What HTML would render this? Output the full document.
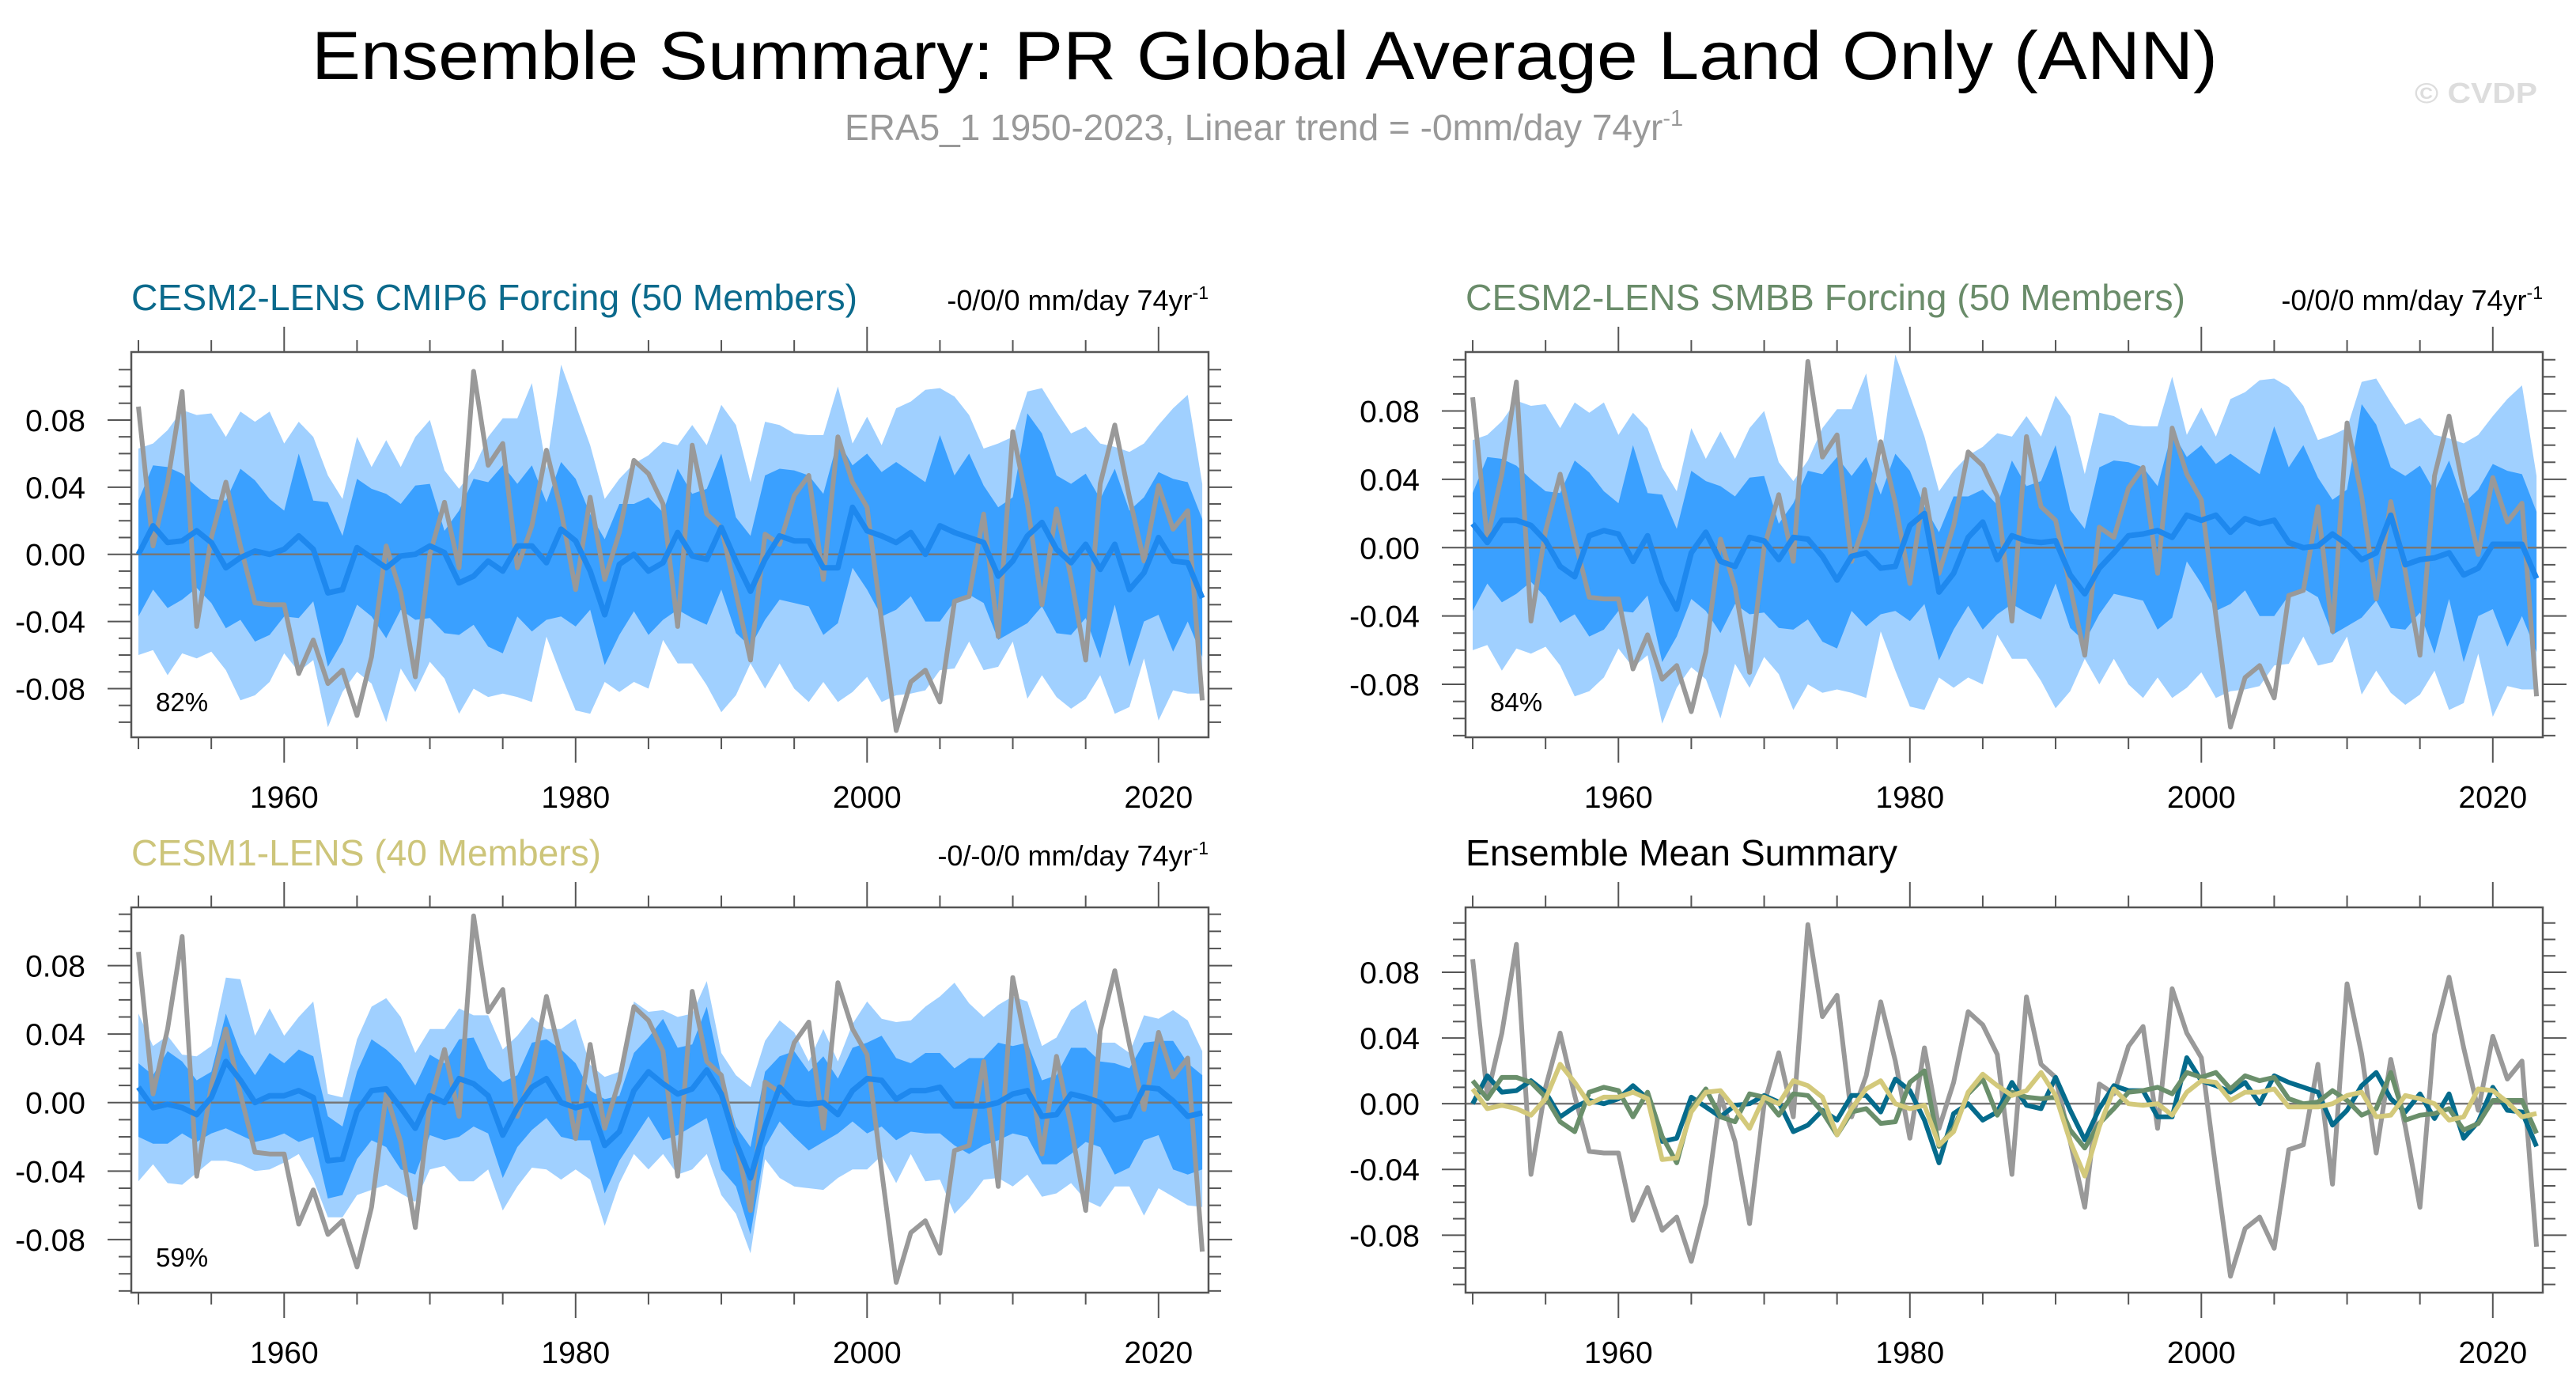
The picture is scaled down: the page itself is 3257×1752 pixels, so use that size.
<!DOCTYPE html>
<html><head><meta charset="utf-8">
<style>
html,body{margin:0;padding:0;background:#fff;}
svg{display:block;font-family:"Liberation Sans",Arial,sans-serif;}
</style></head>
<body>
<svg id="chart" width="3257" height="1752" viewBox="0 0 3257 1752" xmlns="http://www.w3.org/2000/svg">
<text x="1599" y="100" font-size="86" text-anchor="middle" textLength="2410" lengthAdjust="spacingAndGlyphs" fill="#000">Ensemble Summary: PR Global Average Land Only (ANN)</text>
<text x="1068" y="177" font-size="46" fill="#999">ERA5_1 1950-2023, Linear trend = -0mm/day 74yr<tspan dy="-18" font-size="29">-1</tspan></text>
<text x="3053" y="130" font-size="36" font-weight="bold" fill="#ddd" textLength="155" lengthAdjust="spacingAndGlyphs">© CVDP</text>
<g id="panels"></g>
</svg>
<script>
const years = Array.from({length:74},(_, i)=>1950+i);
const xTickLabels = [1960,1980,2000,2020];
const yTickLabels = [-0.08,-0.04,0.00,0.04,0.08];

const obs = [0.088,0.005,0.043,0.097,-0.043,0.010,0.043,0.005,-0.029,-0.030,-0.030,-0.071,-0.051,-0.077,-0.069,-0.096,-0.061,0.005,-0.023,-0.073,0.000,0.031,-0.008,0.109,0.053,0.066,-0.008,0.017,0.062,0.026,-0.021,0.034,-0.015,0.013,0.056,0.048,0.030,-0.043,0.065,0.024,0.016,-0.023,-0.063,0.012,0.006,0.035,0.047,-0.015,0.070,0.043,0.028,-0.040,-0.105,-0.076,-0.069,-0.088,-0.028,-0.025,0.024,-0.049,0.073,0.030,-0.030,0.027,-0.014,-0.063,0.042,0.077,0.034,-0.004,0.041,0.015,0.026,-0.087];

const meanCmip6 = [0.000,0.017,0.007,0.008,0.014,0.007,-0.008,-0.002,0.002,0.000,0.003,0.011,0.003,-0.023,-0.021,0.004,-0.002,-0.008,-0.001,0.000,0.005,0.001,-0.017,-0.013,-0.004,-0.010,0.005,0.005,-0.005,0.015,0.008,-0.010,-0.036,-0.006,0.000,-0.010,-0.005,0.013,-0.001,-0.003,0.016,-0.004,-0.022,-0.003,0.011,0.008,0.008,-0.008,-0.008,0.028,0.014,0.011,0.007,0.013,0.000,0.017,0.013,0.010,0.007,-0.013,-0.004,0.011,0.019,0.003,-0.005,0.006,-0.009,0.006,-0.021,-0.011,0.010,-0.004,-0.005,-0.026];
const meanSmbb = [0.014,0.003,0.016,0.016,0.013,0.004,-0.011,-0.017,0.007,0.010,0.008,-0.008,0.007,-0.020,-0.036,-0.003,0.009,-0.008,-0.011,0.006,0.004,-0.007,0.006,0.005,-0.005,-0.019,-0.005,-0.003,-0.012,-0.011,0.013,0.020,-0.026,-0.015,0.006,0.015,-0.007,0.007,0.004,0.003,0.004,-0.016,-0.027,-0.012,-0.003,0.007,0.008,0.010,0.006,0.019,0.016,0.019,0.009,0.017,0.014,0.016,0.003,0.000,0.001,0.008,0.002,-0.007,-0.003,0.019,-0.010,-0.007,-0.006,-0.003,-0.016,-0.012,0.002,0.002,0.002,-0.018];
const meanCesm1 = [0.009,-0.003,-0.001,-0.003,-0.007,0.003,0.024,0.013,0.000,0.004,0.004,0.007,0.003,-0.034,-0.033,-0.005,0.007,0.008,-0.003,-0.015,0.004,0.000,0.014,0.011,0.004,-0.019,-0.003,0.009,0.014,0.000,-0.003,-0.001,-0.025,-0.017,0.007,0.018,0.011,0.005,0.008,0.019,0.005,-0.023,-0.044,-0.014,0.009,0.000,-0.001,0.000,-0.007,0.007,0.014,0.013,0.002,0.007,0.007,0.009,-0.002,-0.002,-0.002,0.000,0.005,0.007,-0.008,-0.007,0.005,0.003,0.000,-0.010,-0.008,0.009,0.008,0.001,-0.008,-0.006];

const cmip6LightHi = [0.063,0.066,0.074,0.086,0.083,0.084,0.070,0.085,0.079,0.085,0.066,0.079,0.070,0.047,0.033,0.070,0.052,0.068,0.052,0.070,0.080,0.050,0.039,0.051,0.070,0.081,0.081,0.102,0.051,0.113,0.089,0.065,0.033,0.045,0.054,0.059,0.067,0.065,0.077,0.065,0.089,0.077,0.043,0.079,0.077,0.072,0.071,0.071,0.100,0.066,0.082,0.065,0.087,0.091,0.098,0.099,0.094,0.083,0.063,0.066,0.070,0.097,0.099,0.085,0.072,0.076,0.066,0.064,0.061,0.066,0.077,0.087,0.095,0.042];
const cmip6DarkHi = [0.032,0.053,0.052,0.048,0.040,0.033,0.032,0.051,0.044,0.033,0.026,0.060,0.032,0.031,0.011,0.045,0.039,0.036,0.030,0.041,0.042,0.014,0.026,0.045,0.043,0.053,0.042,0.053,0.031,0.055,0.045,0.024,0.009,0.030,0.030,0.034,0.025,0.051,0.036,0.039,0.060,0.022,0.011,0.047,0.051,0.050,0.047,0.036,0.068,0.053,0.060,0.049,0.055,0.049,0.043,0.071,0.047,0.060,0.041,0.028,0.034,0.084,0.072,0.047,0.042,0.048,0.033,0.051,0.026,0.034,0.049,0.045,0.043,0.021];
const cmip6DarkLo = [-0.037,-0.021,-0.032,-0.027,-0.020,-0.029,-0.044,-0.039,-0.052,-0.048,-0.037,-0.038,-0.028,-0.067,-0.052,-0.030,-0.037,-0.050,-0.033,-0.039,-0.038,-0.047,-0.048,-0.042,-0.055,-0.059,-0.037,-0.046,-0.039,-0.037,-0.043,-0.033,-0.066,-0.048,-0.034,-0.048,-0.039,-0.033,-0.038,-0.042,-0.021,-0.047,-0.055,-0.039,-0.027,-0.029,-0.031,-0.048,-0.041,-0.008,-0.021,-0.037,-0.033,-0.025,-0.040,-0.040,-0.028,-0.024,-0.029,-0.051,-0.046,-0.041,-0.031,-0.047,-0.048,-0.038,-0.062,-0.030,-0.067,-0.040,-0.036,-0.058,-0.040,-0.061];
const cmip6LightLo = [-0.060,-0.057,-0.072,-0.059,-0.062,-0.058,-0.069,-0.087,-0.084,-0.076,-0.059,-0.070,-0.063,-0.103,-0.082,-0.070,-0.077,-0.100,-0.068,-0.082,-0.064,-0.074,-0.095,-0.080,-0.085,-0.083,-0.085,-0.088,-0.049,-0.072,-0.093,-0.095,-0.076,-0.082,-0.076,-0.080,-0.051,-0.065,-0.065,-0.078,-0.094,-0.084,-0.065,-0.080,-0.065,-0.080,-0.088,-0.076,-0.088,-0.082,-0.073,-0.088,-0.084,-0.083,-0.081,-0.069,-0.068,-0.052,-0.069,-0.067,-0.052,-0.086,-0.072,-0.085,-0.092,-0.086,-0.072,-0.095,-0.091,-0.062,-0.099,-0.081,-0.083,-0.083];

const cesm1LightHi = [0.052,0.033,0.039,0.028,0.027,0.033,0.073,0.072,0.039,0.055,0.039,0.050,0.059,0.005,0.003,0.037,0.056,0.061,0.050,0.029,0.043,0.043,0.055,0.051,0.051,0.031,0.039,0.050,0.043,0.043,0.049,0.022,0.015,0.018,0.059,0.053,0.054,0.050,0.052,0.071,0.029,0.016,0.009,0.036,0.048,0.041,0.024,0.043,0.024,0.046,0.059,0.049,0.047,0.048,0.056,0.062,0.070,0.058,0.050,0.057,0.062,0.059,0.033,0.038,0.054,0.060,0.035,0.035,0.029,0.051,0.049,0.054,0.048,0.030];
const cesm1DarkHi = [0.023,0.016,0.030,0.024,0.013,0.018,0.052,0.029,0.016,0.029,0.023,0.031,0.027,-0.008,-0.014,0.018,0.037,0.031,0.023,0.010,0.028,0.023,0.037,0.038,0.020,0.012,0.016,0.035,0.037,0.031,0.023,0.007,0.002,0.004,0.029,0.038,0.049,0.032,0.034,0.056,0.016,-0.014,-0.026,0.018,0.027,0.030,0.018,0.027,0.014,0.032,0.035,0.039,0.026,0.023,0.029,0.029,0.020,0.026,0.026,0.035,0.033,0.035,0.013,0.016,0.032,0.032,0.024,0.023,0.020,0.035,0.036,0.036,0.023,0.016];
const cesm1DarkLo = [-0.020,-0.024,-0.024,-0.018,-0.023,-0.018,-0.015,-0.019,-0.023,-0.021,-0.018,-0.023,-0.020,-0.056,-0.054,-0.033,-0.022,-0.026,-0.039,-0.042,-0.019,-0.022,-0.020,-0.014,-0.018,-0.044,-0.026,-0.016,-0.009,-0.020,-0.022,-0.022,-0.053,-0.034,-0.021,-0.008,-0.022,-0.019,-0.014,-0.009,-0.039,-0.049,-0.077,-0.026,-0.011,-0.020,-0.028,-0.023,-0.018,-0.011,-0.018,-0.014,-0.022,-0.017,-0.018,-0.018,-0.025,-0.030,-0.025,-0.022,-0.018,-0.020,-0.036,-0.036,-0.030,-0.023,-0.026,-0.042,-0.038,-0.022,-0.019,-0.039,-0.042,-0.039];
const cesm1LightLo = [-0.046,-0.036,-0.047,-0.048,-0.041,-0.034,-0.034,-0.036,-0.040,-0.039,-0.035,-0.030,-0.045,-0.067,-0.067,-0.054,-0.051,-0.048,-0.053,-0.058,-0.039,-0.037,-0.046,-0.046,-0.039,-0.063,-0.049,-0.038,-0.039,-0.045,-0.039,-0.045,-0.072,-0.047,-0.030,-0.039,-0.030,-0.042,-0.039,-0.030,-0.054,-0.065,-0.088,-0.033,-0.044,-0.049,-0.050,-0.051,-0.044,-0.039,-0.039,-0.031,-0.047,-0.030,-0.046,-0.045,-0.065,-0.056,-0.045,-0.044,-0.049,-0.042,-0.055,-0.053,-0.047,-0.057,-0.061,-0.049,-0.049,-0.066,-0.050,-0.055,-0.060,-0.061];

const NS="http://www.w3.org/2000/svg";
const root=document.getElementById('panels');
function mk(tag,attrs,parent){const e=document.createElementNS(NS,tag);for(const k in attrs)e.setAttribute(k,attrs[k]);(parent||root).appendChild(e);return e;}

const panels=[
 {key:'cmip6',L:166,R:1528,T:445,B:932,ymin:-0.109,ymax:0.1205,title:'CESM2-LENS CMIP6 Forcing (50 Members)',tw:918,tcol:'#0b6a8c',trend:'-0/0/0 mm/day 74yr',pct:'82%',bands:[cmip6LightHi,cmip6DarkHi,cmip6DarkLo,cmip6LightLo],mean:meanCmip6},
 {key:'smbb',L:1853,R:3215,T:445,B:932,ymin:-0.111,ymax:0.1145,title:'CESM2-LENS SMBB Forcing (50 Members)',tw:910,tcol:'#6a8c6a',trend:'-0/0/0 mm/day 74yr',pct:'84%',bands:[cmip6LightHi,cmip6DarkHi,cmip6DarkLo,cmip6LightLo],mean:meanSmbb},
 {key:'cesm1',L:166,R:1528,T:1147,B:1634,ymin:-0.111,ymax:0.114,title:'CESM1-LENS (40 Members)',tw:594,tcol:'#cdc57a',trend:'-0/-0/0 mm/day 74yr',pct:'59%',bands:[cesm1LightHi,cesm1DarkHi,cesm1DarkLo,cesm1LightLo],mean:meanCesm1},
 {key:'summary',L:1853,R:3215,T:1147,B:1634,ymin:-0.115,ymax:0.1195,title:'Ensemble Mean Summary',tw:546,tcol:'#000',trend:null,pct:null,bands:null,mean:null}
];
const xmin=1949.51,xmax=2023.43;

panels.forEach(p=>{
 const g=mk('g',{});
 
 
 const sx=v=>p.L+(v-xmin)/(xmax-xmin)*(p.R-p.L);
 const sy=v=>p.B-(v-p.ymin)/(p.ymax-p.ymin)*(p.B-p.T);
 const band=(hi,lo,col,name)=>{
  let d='M'+years.map((y,i)=>sx(y).toFixed(1)+','+sy(hi[i]).toFixed(1)).join('L');
  for(let i=years.length-1;i>=0;i--) d+='L'+sx(years[i]).toFixed(1)+','+sy(lo[i]).toFixed(1);
  const e=mk('path',{d:d+'Z',fill:col,stroke:'none'},g);
  
  
 };
 const line=(arr,col,w,name)=>{
  const e=mk('polyline',{points:years.map((y,i)=>sx(y).toFixed(1)+','+sy(arr[i]).toFixed(1)).join(' '),fill:'none',stroke:col,'stroke-width':w,'stroke-linejoin':'round'},g);
  
  
 };
 if(p.bands){
  band(p.bands[0],p.bands[3],'#a0d0ff','band-10-90-percentile');
  band(p.bands[1],p.bands[2],'#3aa0ff','band-25-75-percentile');
 }
 const z=mk('line',{x1:p.L,x2:p.R,y1:sy(0),y2:sy(0),stroke:'#777','stroke-width':2.5},g);
 
 
 if(p.bands){
  line(obs,'#999',6,'observed-era5-line');
  line(p.mean,'#1e88ee',7,'ensemble-mean-line');
 } else {
  line(obs,'#999',6,'observed-era5-line');
  line(meanCmip6,'#056b8c',6,'cmip6-mean-line');
  line(meanSmbb,'#6a8f6b',6,'smbb-mean-line');
  line(meanCesm1,'#d3c97b',6,'cesm1-mean-line');
 }
 const fr=mk('rect',{x:p.L,y:p.T,width:p.R-p.L,height:p.B-p.T,fill:'none',stroke:'#555','stroke-width':2.5},g);
 
 
 for(let yr=1950;yr<=2020;yr+=5){
  const major=xTickLabels.includes(yr);const len=major?32:15;const x=sx(yr);
  const t1=mk('line',{x1:x,x2:x,y1:p.T,y2:p.T-len,stroke:'#555','stroke-width':2},g);
  
  
  const t2=mk('line',{x1:x,x2:x,y1:p.B,y2:p.B+len,stroke:'#555','stroke-width':2},g);
  
  
 }
 xTickLabels.forEach(v=>{
  const t=mk('text',{x:sx(v),y:p.B+89,'font-size':39,'text-anchor':'middle',fill:'#000'},g);
  t.textContent=v;
  
  
 });
 for(let k=-11;k<=11;k++){
  const v=k/100; if(v<p.ymin||v>p.ymax) continue;
  const major=(k%4===0);const len=major?30:16;const y=sy(v);
  const a=mk('line',{x1:p.L,x2:p.L-len,y1:y,y2:y,stroke:'#555','stroke-width':2},g);
  
  
  const b=mk('line',{x1:p.R,x2:p.R+len,y1:y,y2:y,stroke:'#555','stroke-width':2},g);
  
  
 }
 yTickLabels.forEach(v=>{
  const t=mk('text',{x:p.L-58,y:sy(v)+14,'font-size':39,'text-anchor':'end',fill:'#000'},g);
  t.textContent=v.toFixed(2);
  
  
 });
 const tt=mk('text',{x:p.L,y:p.T-53,'font-size':46,fill:p.tcol,textLength:p.tw,lengthAdjust:'spacingAndGlyphs'},g);
 tt.textContent=p.title;
 
 
 if(p.trend){
  const tr=mk('text',{x:p.R,y:p.T-53,'font-size':36,'text-anchor':'end',fill:'#000'},g);
  tr.textContent=p.trend;
  const sup=mk('tspan',{dy:-14,'font-size':23},tr);
  sup.textContent='-1';
  
  
 }
 if(p.pct){
  const pc=mk('text',{x:p.L+31,y:p.B-33,'font-size':33,fill:'#000'},g);
  pc.textContent=p.pct;
  
  
 }
});
</script>
</body></html>
